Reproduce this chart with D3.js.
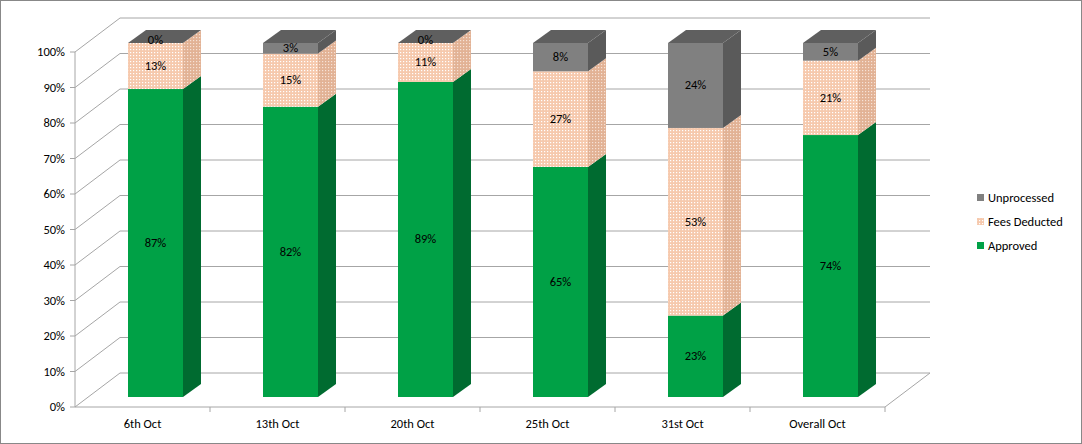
<!DOCTYPE html><html><head><meta charset="utf-8"><script src="https://cdn.jsdelivr.net/npm/d3@7"></script>
<style>body{margin:0}text{font-family:Calibri,Carlito,"Liberation Sans",sans-serif;font-size:12.5px;fill:#000}</style></head><body>
<svg id="c" width="1082" height="444"></svg>
<script>
const categories=["6th Oct","13th Oct","20th Oct","25th Oct","31st Oct","Overall Oct"];
const approved=[87,82,89,65,23,74];
const fees=[13,15,11,27,53,21];
const unprocessed=[0,3,0,8,24,5];
const yTicks=[0,10,20,30,40,50,60,70,80,90,100];
const seriesNames=["Approved","Fees Deducted","Unprocessed"];
const svg=d3.select("#c");
const defs=svg.append("defs");
const p=defs.append("pattern").attr("id","dots").attr("width",3).attr("height",3).attr("patternUnits","userSpaceOnUse");
p.append("rect").attr("width",3).attr("height",3).attr("fill","#f6c9ad");
p.append("rect").attr("x",1).attr("y",1).attr("width",1.2).attr("height",1.2).attr("fill","#fff");
const p2=defs.append("pattern").attr("id","dots2").attr("width",3).attr("height",3).attr("patternUnits","userSpaceOnUse");
p2.append("rect").attr("width",3).attr("height",3).attr("fill","#e2b295");
p2.append("rect").attr("x",1).attr("y",1).attr("width",1.2).attr("height",1.2).attr("fill","#f6e2d6");
svg.append("rect").attr("x",0.5).attr("y",0.5).attr("width",1081).attr("height",443).attr("fill","#fff").attr("stroke","#888");
const x0=75,x1=885,DX=45,DY=-34;
const yF=d3.scaleLinear().domain([0,100]).range([407,52]);
const xB=d3.scaleBand().domain(categories).range([x0,x1]);
const g=svg.append("g");
yTicks.forEach(t=>{const y=yF(t);
 g.append("path").attr("d",`M${x0},${y}L${x0+DX},${y+DY}L${x1+DX},${y+DY}`).attr("fill","none").attr("stroke","#a6a6a6");
 g.append("line").attr("x1",x0-5).attr("x2",x0).attr("y1",y).attr("y2",y).attr("stroke","#a6a6a6");
 g.append("text").attr("x",x0-10).attr("y",y+4).attr("text-anchor","end").text(t+"%");});
g.append("line").attr("x1",x0).attr("x2",x0).attr("y1",yF(0)).attr("y2",yF(100)).attr("stroke","#a6a6a6");
g.append("line").attr("x1",x0).attr("x2",x1).attr("y1",yF(0)).attr("y2",yF(0)).attr("stroke","#a6a6a6");
g.append("line").attr("x1",x1).attr("x2",x1+DX).attr("y1",yF(0)).attr("y2",yF(0)+DY).attr("stroke","#a6a6a6");
categories.forEach((c,i)=>{const xt=xB(c);
 if(i>0) g.append("line").attr("x1",xt).attr("x2",xt).attr("y1",yF(0)).attr("y2",yF(0)+5).attr("stroke","#a6a6a6");
 g.append("text").attr("x",xt+xB.bandwidth()/2).attr("y",428).attr("text-anchor","middle").text(c);});
g.append("line").attr("x1",x1).attr("x2",x1).attr("y1",yF(0)).attr("y2",yF(0)+5).attr("stroke","#a6a6a6");
const yBar=d3.scaleLinear().domain([0,100]).range([397,43]);
const bw=55,bd=18,bdy=-13;
const cols=[{f:"#00a146",s:"#006b30"},{f:"url(#dots)",s:"url(#dots2)"},{f:"#808080",s:"#5a5a5a"}];
const data=[approved,fees,unprocessed];
const shapes=svg.append("g"),labels=svg.append("g");
categories.forEach((c,i)=>{const bx=xB(c)+53;let acc=0;
 data.forEach((arr,k)=>{const v=arr[i];const yb=yBar(acc),yt=yBar(acc+v);acc+=v;
  const cl=cols[k];
  if(v>0){
   shapes.append("rect").attr("x",bx).attr("y",yt).attr("width",bw).attr("height",yb-yt).attr("fill",cl.f);
   shapes.append("path").attr("d",`M${bx+bw},${yb}L${bx+bw+bd},${yb+bdy}L${bx+bw+bd},${yt+bdy}L${bx+bw},${yt}Z`).attr("fill",cl.s);}
  labels.append("text").attr("x",bx+bw/2).attr("y",v>0?(yb+yt)/2+4:yt+1).attr("text-anchor","middle").text(v+"%");
 });
 const yt=yBar(acc);
 shapes.append("path").attr("d",`M${bx},${yt}L${bx+bd},${yt+bdy}L${bx+bw+bd},${yt+bdy}L${bx+bw},${yt}Z`).attr("fill","#5f5f5f");
});
const lg=svg.append("g");
[2,1,0].forEach((k,j)=>{const y=198+j*24;
 lg.append("rect").attr("x",977).attr("y",y-4).attr("width",7).attr("height",7).attr("fill",cols[k].f);
 lg.append("text").attr("x",988).attr("y",y+4).text(seriesNames[k]);});
</script></body></html>
